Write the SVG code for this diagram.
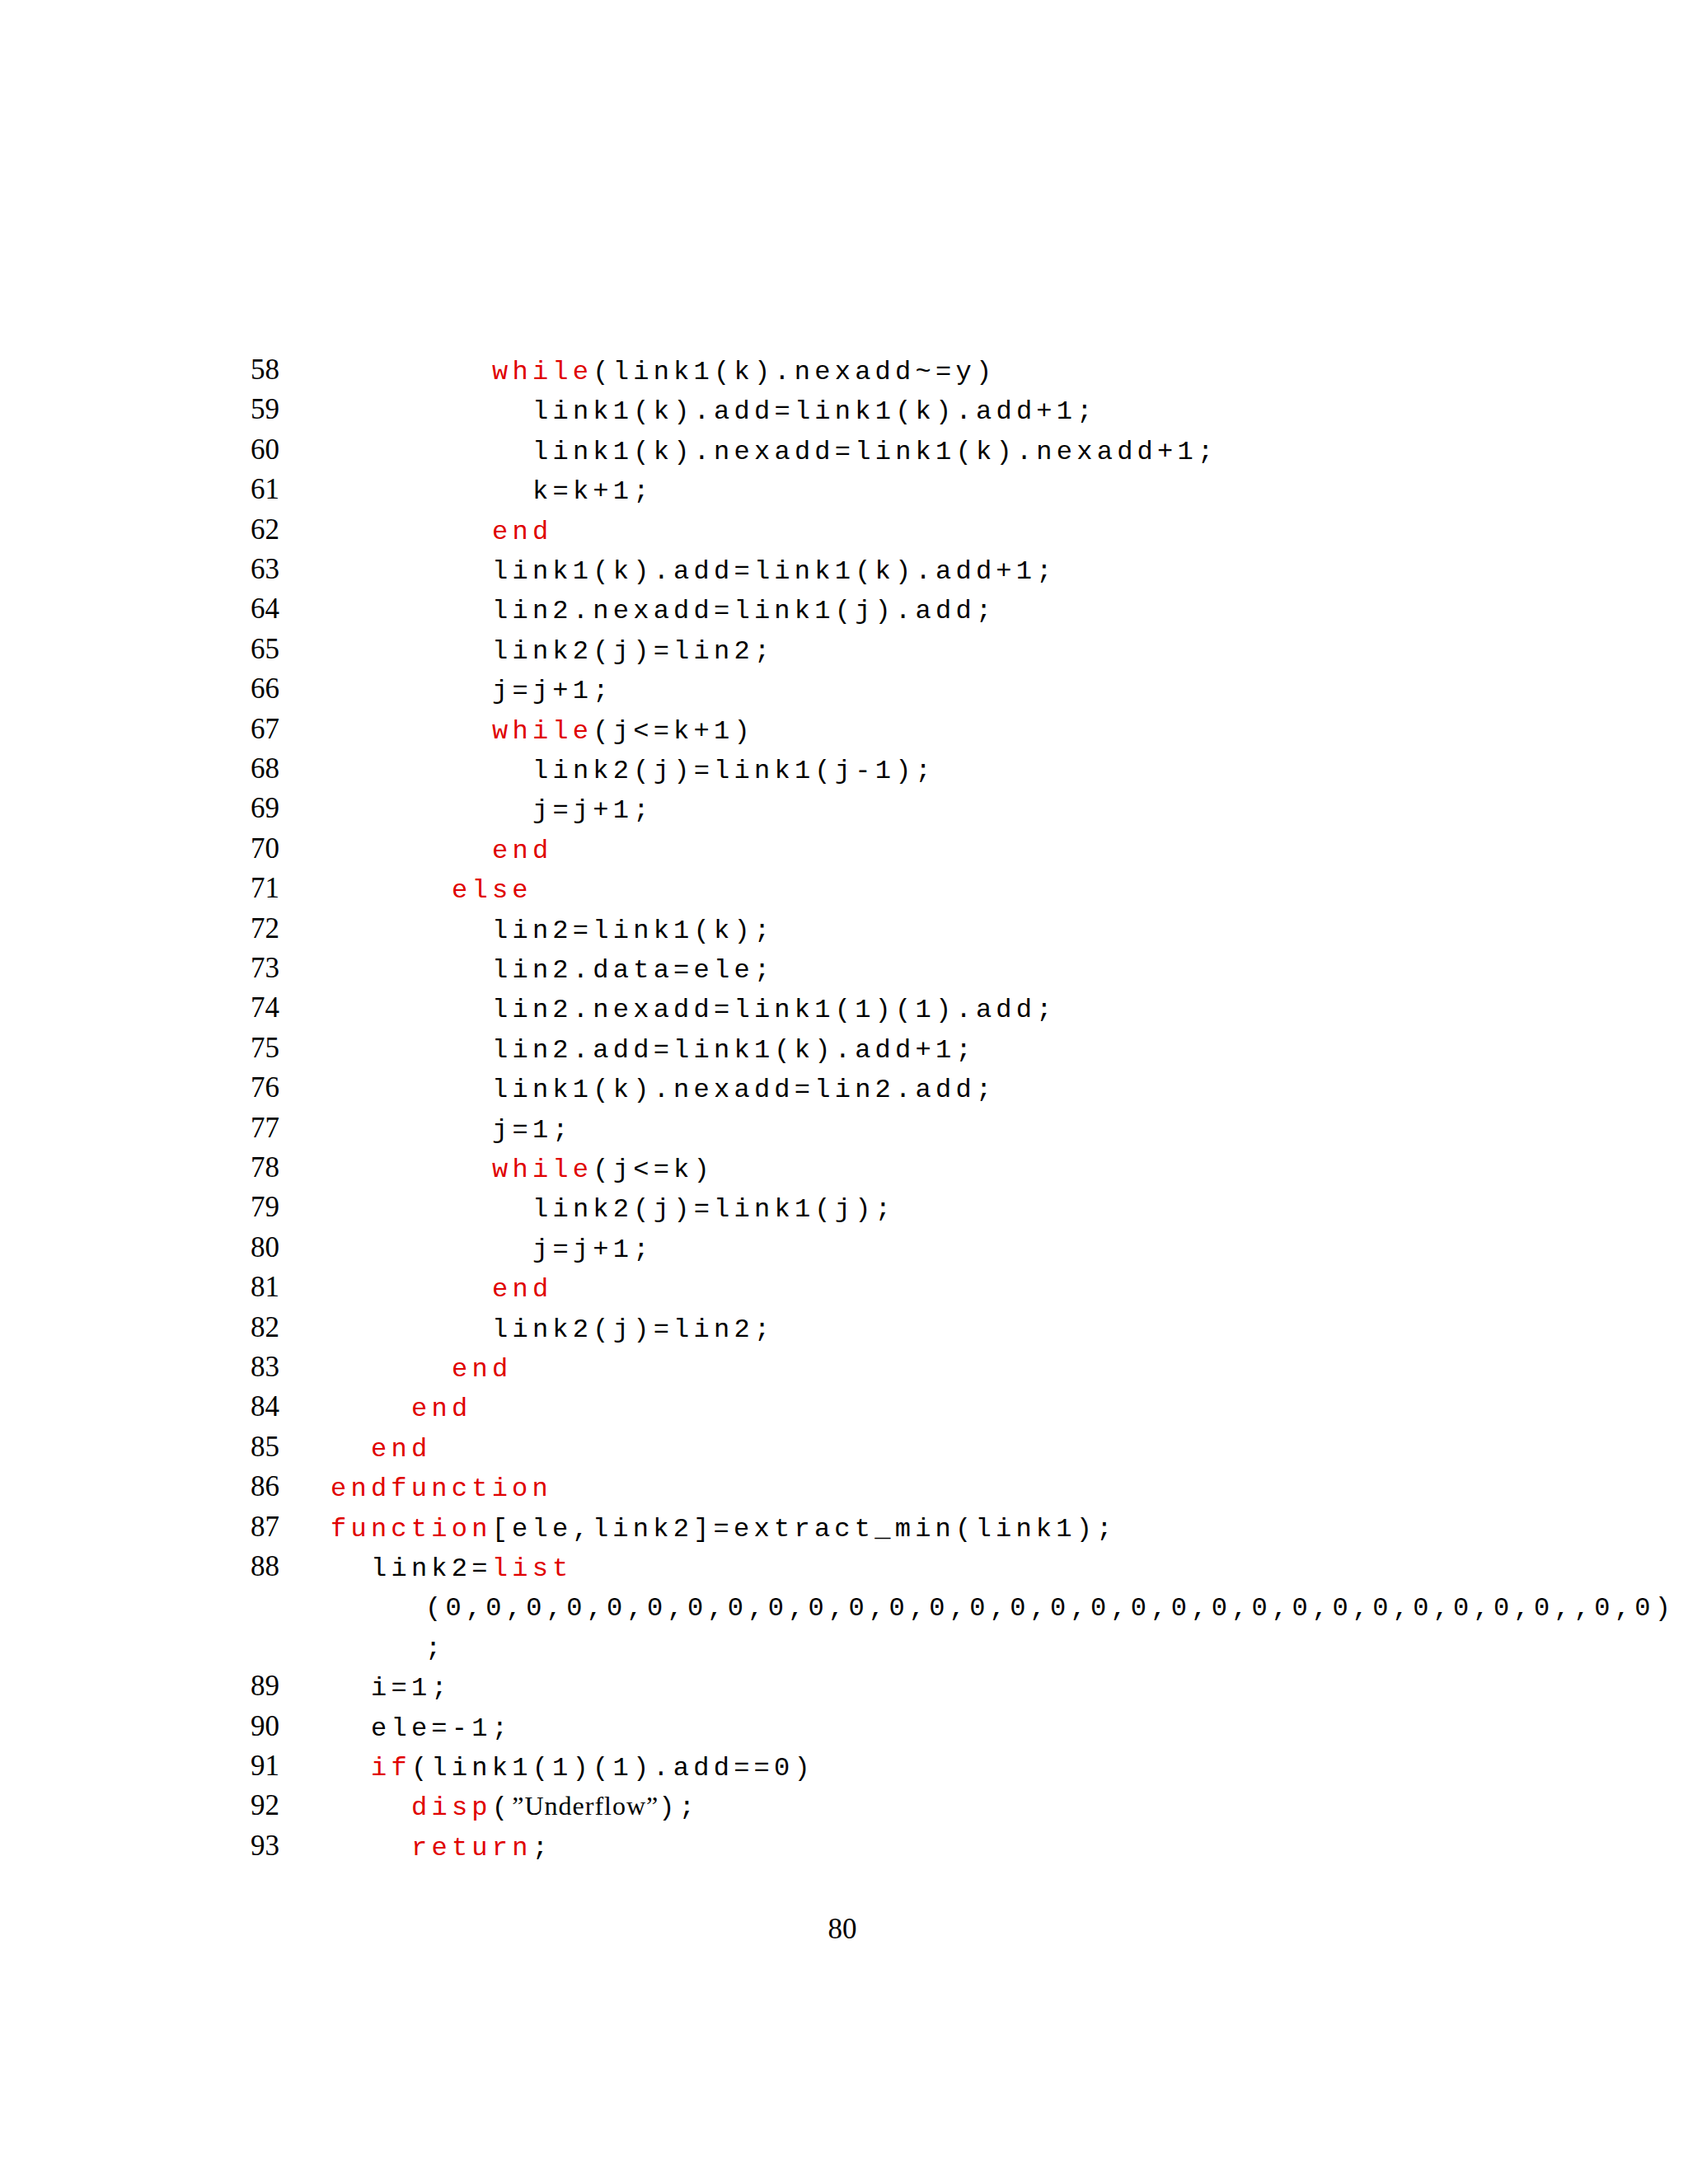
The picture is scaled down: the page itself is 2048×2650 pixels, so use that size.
<svg xmlns="http://www.w3.org/2000/svg" width="2048" height="2650" viewBox="0 0 2048 2650">
<style>
.n{font-family:"Liberation Serif",serif;font-size:35px;fill:#000;text-anchor:end}
.c{font-family:"Liberation Mono",monospace;font-size:32px;letter-spacing:5.25px;fill:#000}
.k{fill:#e00000}
.s{font-family:"Liberation Serif",serif;letter-spacing:1px}
</style>
<rect width="2048" height="2650" fill="#fff"/>
<g id="numbers">
<text class="n" x="339" y="460">58</text>
<text class="n" x="339" y="508.4">59</text>
<text class="n" x="339" y="556.8">60</text>
<text class="n" x="339" y="605.2">61</text>
<text class="n" x="339" y="653.6">62</text>
<text class="n" x="339" y="702">63</text>
<text class="n" x="339" y="750.4">64</text>
<text class="n" x="339" y="798.8">65</text>
<text class="n" x="339" y="847.2">66</text>
<text class="n" x="339" y="895.6">67</text>
<text class="n" x="339" y="944">68</text>
<text class="n" x="339" y="992.4">69</text>
<text class="n" x="339" y="1040.8">70</text>
<text class="n" x="339" y="1089.2">71</text>
<text class="n" x="339" y="1137.6">72</text>
<text class="n" x="339" y="1186">73</text>
<text class="n" x="339" y="1234.4">74</text>
<text class="n" x="339" y="1282.8">75</text>
<text class="n" x="339" y="1331.2">76</text>
<text class="n" x="339" y="1379.6">77</text>
<text class="n" x="339" y="1428">78</text>
<text class="n" x="339" y="1476.4">79</text>
<text class="n" x="339" y="1524.8">80</text>
<text class="n" x="339" y="1573.2">81</text>
<text class="n" x="339" y="1621.6">82</text>
<text class="n" x="339" y="1670">83</text>
<text class="n" x="339" y="1718.4">84</text>
<text class="n" x="339" y="1766.8">85</text>
<text class="n" x="339" y="1815.2">86</text>
<text class="n" x="339" y="1863.6">87</text>
<text class="n" x="339" y="1912">88</text>
<text class="n" x="339" y="2057.2">89</text>
<text class="n" x="339" y="2105.6">90</text>
<text class="n" x="339" y="2154">91</text>
<text class="n" x="339" y="2202.4">92</text>
<text class="n" x="339" y="2250.8">93</text>
</g>
<g id="code">
<text class="c" x="597" y="460"><tspan class="k">while</tspan>(link1(k).nexadd~=y)</text>
<text class="c" x="646" y="508.4">link1(k).add=link1(k).add+1;</text>
<text class="c" x="646" y="556.8">link1(k).nexadd=link1(k).nexadd+1;</text>
<text class="c" x="646" y="605.2">k=k+1;</text>
<text class="c k" x="597" y="653.6">end</text>
<text class="c" x="597" y="702">link1(k).add=link1(k).add+1;</text>
<text class="c" x="597" y="750.4">lin2.nexadd=link1(j).add;</text>
<text class="c" x="597" y="798.8">link2(j)=lin2;</text>
<text class="c" x="597" y="847.2">j=j+1;</text>
<text class="c" x="597" y="895.6"><tspan class="k">while</tspan>(j&lt;=k+1)</text>
<text class="c" x="646" y="944">link2(j)=link1(j-1);</text>
<text class="c" x="646" y="992.4">j=j+1;</text>
<text class="c k" x="597" y="1040.8">end</text>
<text class="c k" x="548" y="1089.2">else</text>
<text class="c" x="597" y="1137.6">lin2=link1(k);</text>
<text class="c" x="597" y="1186">lin2.data=ele;</text>
<text class="c" x="597" y="1234.4">lin2.nexadd=link1(1)(1).add;</text>
<text class="c" x="597" y="1282.8">lin2.add=link1(k).add+1;</text>
<text class="c" x="597" y="1331.2">link1(k).nexadd=lin2.add;</text>
<text class="c" x="597" y="1379.6">j=1;</text>
<text class="c" x="597" y="1428"><tspan class="k">while</tspan>(j&lt;=k)</text>
<text class="c" x="646" y="1476.4">link2(j)=link1(j);</text>
<text class="c" x="646" y="1524.8">j=j+1;</text>
<text class="c k" x="597" y="1573.2">end</text>
<text class="c" x="597" y="1621.6">link2(j)=lin2;</text>
<text class="c k" x="548" y="1670">end</text>
<text class="c k" x="499" y="1718.4">end</text>
<text class="c k" x="450" y="1766.8">end</text>
<text class="c k" x="401" y="1815.2">endfunction</text>
<text class="c" x="401" y="1863.6"><tspan class="k">function</tspan>[ele,link2]=extract_min(link1);</text>
<text class="c" x="450" y="1912">link2=<tspan class="k">list</tspan></text>
<text class="c" x="516" y="1960.4">(0,0,0,0,0,0,0,0,0,0,0,0,0,0,0,0,0,0,0,0,0,0,0,0,0,0,0,0,,0,0)</text>
<text class="c" x="516" y="2008.8">;</text>
<text class="c" x="450" y="2057.2">i=1;</text>
<text class="c" x="450" y="2105.6">ele=-1;</text>
<text class="c" x="450" y="2154"><tspan class="k">if</tspan>(link1(1)(1).add==0)</text>
<text class="c" x="499" y="2202.4"><tspan class="k">disp</tspan>(<tspan class="s">”Underflow”</tspan>);</text>
<text class="c" x="499" y="2250.8"><tspan class="k">return</tspan>;</text>
</g>
<text x="1022" y="2352" font-family="Liberation Serif, serif" font-size="35" text-anchor="middle">80</text>
</svg>
